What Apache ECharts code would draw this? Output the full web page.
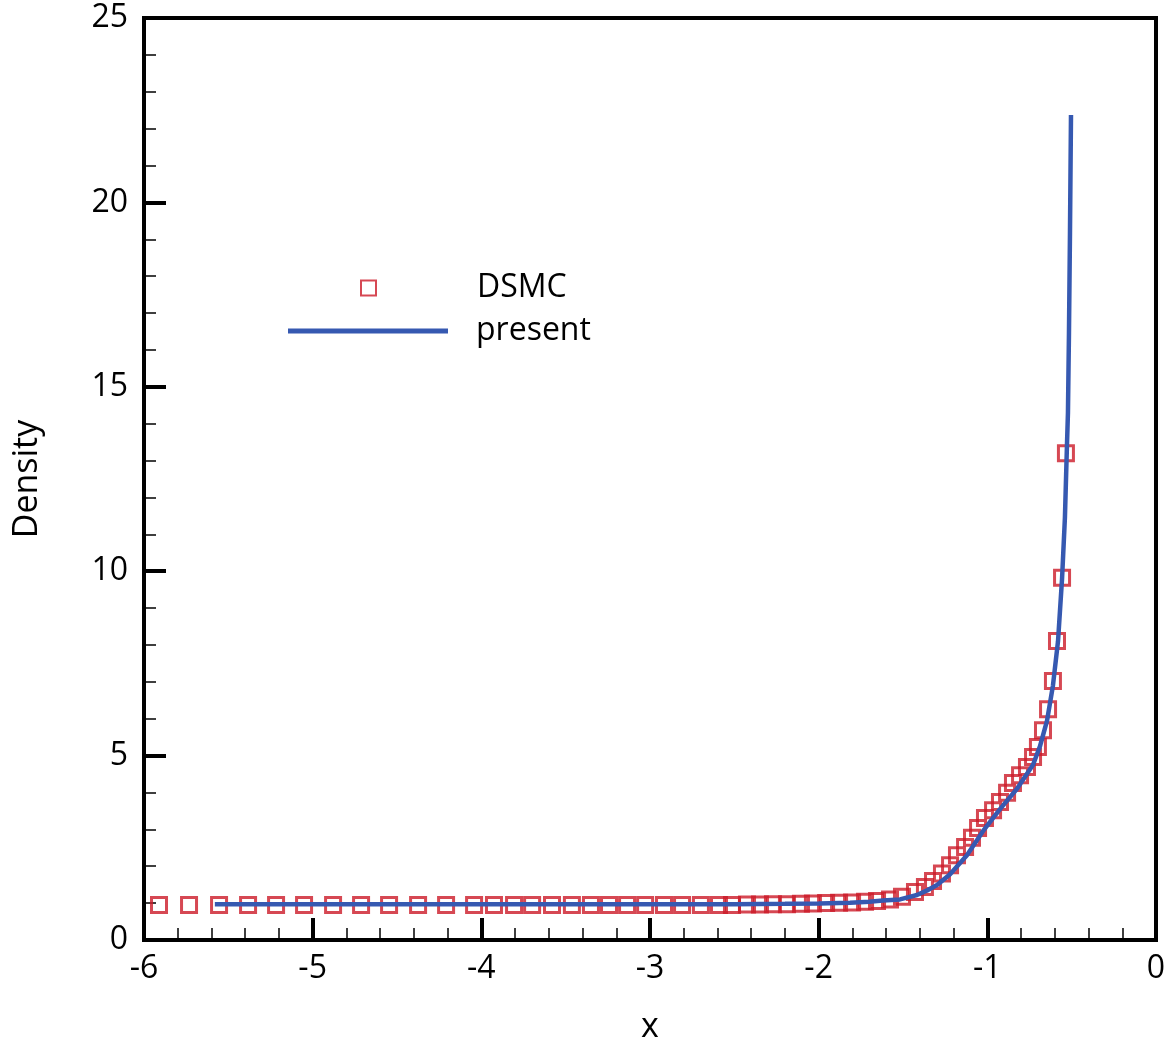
<!DOCTYPE html>
<html>
<head>
<meta charset="utf-8">
<script src="https://cdn.jsdelivr.net/npm/echarts@6/dist/echarts.min.js"></script>
<style>
  html, body { margin: 0; padding: 0; background: #fff; }
</style>
</head>
<body>
<div id="chart" style="width: 1166px; height: 1055px"></div>
<script>
// DSMC samples (x, density)
const dsmcX = [
  -5.911, -5.733, -5.555, -5.383, -5.217, -5.051, -4.879, -4.713, -4.547, -4.375, -4.209, -4.043,
  -3.925, -3.806, -3.699, -3.581, -3.463, -3.350, -3.243, -3.136, -3.029, -2.917, -2.810, -2.698,
  -2.591, -2.514, -2.425, -2.348, -2.271, -2.188, -2.105, -2.034, -1.956, -1.879, -1.802, -1.725,
  -1.654, -1.577, -1.506, -1.429, -1.370, -1.322, -1.269, -1.221, -1.180, -1.132, -1.091, -1.055,
  -1.014, -0.966, -0.925, -0.883, -0.848, -0.806, -0.765, -0.729, -0.700, -0.670, -0.640, -0.611,
  -0.587, -0.557, -0.534
]
const dsmcY = [
  0.95, 0.95, 0.95, 0.95, 0.95, 0.95, 0.95, 0.95, 0.95, 0.95, 0.95, 0.95,
  0.95, 0.95, 0.95, 0.95, 0.95, 0.95, 0.95, 0.95, 0.95, 0.95, 0.95, 0.95,
  0.95, 0.95, 0.96, 0.96, 0.97, 0.97, 0.98, 0.99, 1.00, 1.01, 1.02, 1.04,
  1.06, 1.10, 1.17, 1.30, 1.44, 1.60, 1.80, 2.03, 2.30, 2.52, 2.77, 3.04,
  3.31, 3.52, 3.74, 3.99, 4.26, 4.47, 4.69, 4.96, 5.23, 5.69, 6.26, 7.02,
  8.11, 9.82, 13.2
]

// present solution (x, density)
const presentX = [
  -5.58, -5.0, -4.0, -3.0, -2.5, -2.2, -2.0, -1.814, -1.7, -1.619, -1.518, -1.417,
  -1.35, -1.298, -1.221, -1.121, -1.026, -0.925, -0.824, -0.729, -0.688, -0.646,
  -0.611, -0.581, -0.557, -0.540, -0.528, -0.522, -0.516, -0.510, -0.504
]
const presentY = [
  0.97, 0.97, 0.97, 0.97, 0.97, 0.98, 0.99, 1.01, 1.04, 1.07, 1.10, 1.22,
  1.36, 1.49, 1.78, 2.30, 2.95, 3.55, 4.10, 4.75, 5.25, 5.95,
  6.90, 8.10, 9.80, 11.45, 13.40, 14.30, 16.46, 19.17, 22.37
]

const xTicks = { min: -6, max: 0, step: 1 }
const yTicks = { min: 0, max: 25, step: 5 }

const chart = echarts.init(document.getElementById('chart'))

const font = '"Open Sans", "Noto Sans", sans-serif'
const red = '#cc1a28'
const blue = '#3659b1'

const axisCommon = {
  axisLine: { show: true, onZero: false, lineStyle: { color: '#000', width: 4 } },
  axisTick: { show: true, inside: true, length: 22, lineStyle: { color: '#000', width: 4 } },
  minorTick: { show: true, splitNumber: 5, length: 12, lineStyle: { color: '#000', width: 1.5 } },
  splitLine: { show: false },
  axisLabel: { color: '#000', fontSize: 32, fontFamily: font },
  nameTextStyle: { color: '#000', fontSize: 34, fontFamily: font }
}

const option = {
  animation: false,
  backgroundColor: '#fff',
  grid: {
    left: 144, right: 10, top: 18, bottom: 115,
    outerBoundsMode: 'none',
    show: true, borderColor: '#000', borderWidth: 4
  },
  legend: [
    {
      data: ['DSMC'],
      left: 360, top: 272,
      padding: 0,
      itemWidth: 15, itemHeight: 15,
      textStyle: { color: '#000', fontSize: 32, fontFamily: font, padding: [0, 0, 0, 96] }
    },
    {
      data: [{ name: 'present', icon: 'rect' }],
      left: 288, top: 315,
      padding: 0,
      itemWidth: 160, itemHeight: 5,
      textStyle: { color: '#000', fontSize: 32, fontFamily: font, padding: [0, 0, 0, 23] }
    }
  ],
  xAxis: Object.assign({}, axisCommon, {
    type: 'value',
    min: xTicks.min, max: xTicks.max, interval: xTicks.step,
    name: 'x', nameLocation: 'middle', nameGap: 70,
    axisLabel: Object.assign({}, axisCommon.axisLabel, { margin: 13 })
  }),
  yAxis: Object.assign({}, axisCommon, {
    type: 'value',
    min: yTicks.min, max: yTicks.max, interval: yTicks.step,
    name: 'Density', nameLocation: 'middle', nameGap: 100,
    axisLabel: Object.assign({}, axisCommon.axisLabel, { margin: 16 })
  }),
  series: [
    {
      name: 'DSMC',
      type: 'scatter',
      symbol: 'rect',
      symbolSize: 15,
      itemStyle: { color: 'rgba(255,255,255,0)', borderColor: red, borderWidth: 3 },
      data: dsmcX.map((x, i) => [x, dsmcY[i]]),
      z: 2
    },
    {
      name: 'present',
      type: 'line',
      symbol: 'none',
      lineStyle: { color: blue, width: 4.5 },
      itemStyle: { color: blue },
      data: presentX.map((x, i) => [x, presentY[i]]),
      z: 3
    }
  ]
}

chart.setOption(option)
</script>
</body>
</html>
